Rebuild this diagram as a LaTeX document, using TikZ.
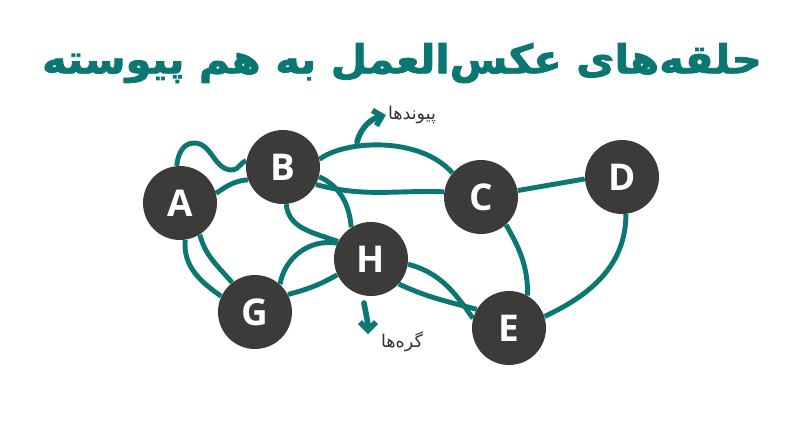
\documentclass[tikz,border=0pt]{standalone}
\usepackage{fontspec}
\usetikzlibrary{arrows.meta}
\setmainfont{Open Sans}
\newfontfamily\persianfont[Script=Arabic]{DejaVu Sans}
\newfontfamily\titlefont[Script=Arabic,BoldFeatures={FakeBold=2}]{DejaVu Sans}
\TeXXeTstate=1
\definecolor{teallink}{HTML}{0A7772}
\definecolor{nodegray}{HTML}{3D3B39}
\definecolor{labelgray}{HTML}{333333}

\begin{document}
\begin{tikzpicture}[x=0.02cm,y=0.02cm,
    vertex/.style={circle,fill=nodegray,minimum size=1.48cm,inner sep=0pt,text=white,font=\bfseries\fontsize{21}{21}\selectfont},
    link/.style={draw=teallink,line width=2.8pt},
    pointer/.style={draw=teallink,line width=3.2pt,line cap=round,-{Straight Barb[length=4.5pt,width=9pt]}},
    tag/.style={inner sep=1pt,text=labelgray,font=\persianfont\fontsize{10}{10}\selectfont}]
    \useasboundingbox (0,0) rectangle (800,424);
    \node[inner sep=0pt,text=teallink,font=\titlefont\bfseries\fontsize{30}{30}\selectfont] (title) at (402,361) {\resizebox*{14.4cm}{0.8cm}{\beginR حلقه‌های عکس‌العمل به هم پیوسته\endR}};
    \node[vertex] (A) at (180,221) {A};
    \node[vertex] (B) at (283,257) {B};
    \node[vertex] (C) at (481,227) {C};
    \node[vertex] (D) at (622,247) {D};
    \node[vertex] (H) at (371,165) {H};
    \node[vertex] (G) at (255,112) {G};
    \node[vertex] (E) at (509,96) {E};
    % links
    \draw[link] (A.95) to[out=85,in=180] (194,281) to[out=0,in=180] (232,254) to[out=0,in=200] (B.170);
    \draw[link] (A.15) to[out=35,in=185] (B.200);
    \draw[link] (B.12) .. controls (345,284) and (420,288) .. (C.140);
    \draw[link] (B.-28) to[out=-15,in=178] (C.172);
    \draw[link] (B.-15) to[out=-25,in=95] (H.122);
    \draw[link] (B.-85) to[out=-85,in=160] (H.152);
    \draw[link] (A.-82) to[out=-95,in=145] (G.155);
    \draw[link] (A.-58) to[out=-75,in=130] (G.128);
    \draw[link] (G.48) to[out=80,in=170] (H.155);
    \draw[link] (G.28) to[out=15,in=210] (H.205);
    \draw[link] (H.-8) to[out=-15,in=125] (E.165);
    \draw[link] (H.-42) to[out=-25,in=165] (E.150);
    \draw[link] (C.-48) to[out=-60,in=90] (E.60);
    \draw[link] (C.10) -- (D.183);
    \draw[link] (D.-84) to[out=-90,in=25] (E.18);
    % labels
    \node[tag] (links) at (412,309) {\beginR پیوندها\endR};
    \node[tag] (knots) at (402,82) {\beginR گره‌ها\endR};
    \coordinate (linkstail) at (357,282);
    \coordinate (knotstail) at (364,121);
    \coordinate (knotstip) at (368,90);
    \draw[pointer] (linkstail) to[out=75,in=195] (links.west);
    \draw[pointer] (knotstail) to[out=-80,in=90] (knotstip);
\end{tikzpicture}
\end{document}
